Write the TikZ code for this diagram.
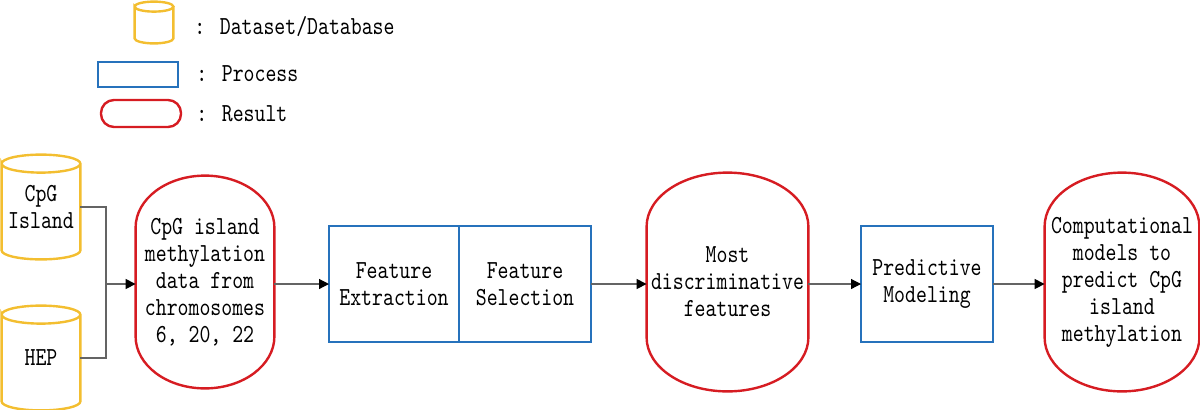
\documentclass[tikz,border=0pt]{standalone}
\usepackage{fontspec}
\usepackage{tikz}
\usetikzlibrary{arrows.meta,calc}
\newfontfamily\diafont[FakeStretch=0.8]{lmmono10-regular.otf}
\definecolor{dbyellow}{RGB}{243,190,48}
\definecolor{procblue}{RGB}{38,114,188}
\definecolor{resred}{RGB}{214,28,34}
\definecolor{linegray}{RGB}{100,100,100}

\begin{document}
\begin{tikzpicture}[x=0.5pt,y=-0.5pt,
    every node/.style={font=\diafont\fontsize{13}{13.5}\selectfont, align=center, inner sep=0pt},
    dbase/.style={minimum width=39pt, minimum height=52pt},
    dbline/.style={draw=dbyellow, line width=1.2pt},
    proc/.style={draw=procblue, line width=1.2pt, outer sep=0pt, minimum height=58pt},
    result/.style={minimum height=106pt},
    resline/.style={draw=resred, line width=1.2pt},
    flow/.style={draw=linegray, line width=0.6pt, -{Triangle[length=5pt,width=5pt,color=black]}},
    link/.style={draw=linegray, line width=0.6pt}]
  \useasboundingbox (0,0) rectangle (1200,409);

  % legend
  \node[minimum width=19pt, minimum height=20.5pt] (legdb) at (154,22.5) {};
  \node[anchor=west] (legdbtxt) at (194,27) {: Dataset/Database};
  \node[draw=procblue, line width=1.2pt, minimum width=40pt, minimum height=12.5pt] (legproc) at (138,74.5) {};
  \node[anchor=west] (legproctxt) at (196,74) {: Process};
  \node[draw=resred, line width=1.2pt, rounded corners=6.5pt, minimum width=40pt, minimum height=13.5pt] (legres) at (141,113.5) {};
  \node[anchor=west] (legrestxt) at (196,114) {: Result};

  % data sources
  \node[dbase] (cpg) at (41,207) {CpG\\Island};
  \node[dbase] (hep) at (41,358) {HEP};
  \coordinate (join) at (106,284);

  % pipeline
  \node[result, minimum width=69pt] (res1) at (205,282) {CpG island\\methylation\\data from\\chromosomes\\6, 20, 22};
  \node[proc, minimum width=65pt] (fext) at (394,284) {Feature\\Extraction};
  \node[proc, minimum width=66pt, anchor=west] (fsel) at (fext.east) {Feature\\Selection};
  \node[result, minimum width=80.5pt, minimum height=109pt] (res2) at (727.5,282) {Most\\discriminative\\features};
  \node[proc, minimum width=66pt] (pred) at (927,284) {Predictive\\Modeling};
  \node[result, minimum width=77pt, minimum height=109pt] (res3) at (1122,282) {Computational\\models to\\predict CpG\\island\\methylation};

  % outlines
  \foreach \db/\ry in {legdb/2.5pt,cpg/4.5pt,hep/4.5pt}
    \draw[dbline] let \p1=(\db.north west), \p2=(\db.south east), \n1={(\x2-\x1)/2} in
      (\x1,\y1-\ry) arc[start angle=180, end angle=-180, x radius={\n1*1pt}, y radius=\ry]
      -- (\x1,\y2+\ry) arc[start angle=180, end angle=360, x radius={\n1*1pt}, y radius=\ry]
      -- (\x2,\y1-\ry);
  \foreach \rs/\ry in {res1/26pt,res2/27pt,res3/27pt}
    \draw[resline] let \p1=(\rs.north west), \p2=(\rs.south east), \n1={(\x2-\x1)/2} in
      (\x1,\y1-\ry) arc[start angle=180, end angle=0, x radius={\n1*1pt}, y radius=\ry]
      -- (\x2,\y2+\ry) arc[start angle=0, end angle=-180, x radius={\n1*1pt}, y radius=\ry]
      -- cycle;

  % connectors
  \draw[link] (cpg.east) -| (join);
  \draw[link] (hep.east) -| (join);
  \draw[flow] (join) -- (join -| res1.west);
  \draw[flow] (fext.west -| res1.east) -- (fext.west);
  \draw[flow] (fsel.east) -- (fsel.east -| res2.west);
  \draw[flow] (pred.west -| res2.east) -- (pred.west);
  \draw[flow] (pred.east) -- (pred.east -| res3.west);
\end{tikzpicture}
\end{document}
